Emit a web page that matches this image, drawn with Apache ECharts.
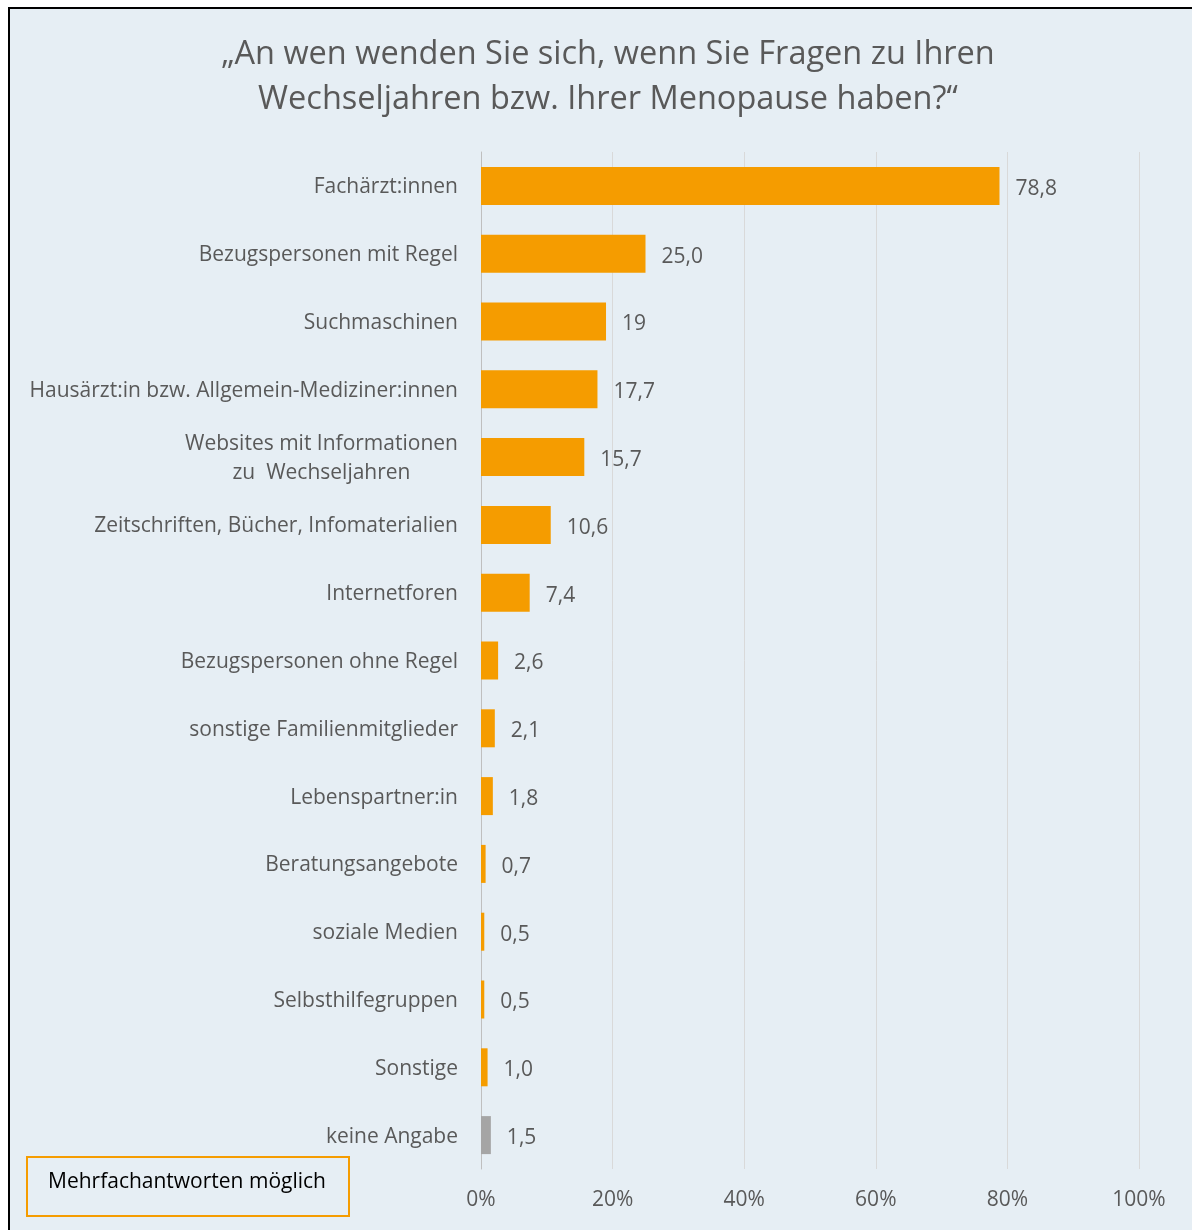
<!DOCTYPE html>
<html><head><meta charset="utf-8">
<script src="https://cdn.jsdelivr.net/npm/echarts@6/dist/echarts.min.js"></script>
<style>html,body{margin:0;padding:0;background:#fff}#c{width:1192px;height:1230px}</style>
</head><body><div id="c"></div>
<script>
const categories = ["Fachärzt:innen","Bezugspersonen mit Regel","Suchmaschinen","Hausärzt:in bzw. Allgemein-Mediziner:innen","Websites mit Informationen\nzu  Wechseljahren","Zeitschriften, Bücher, Infomaterialien","Internetforen","Bezugspersonen ohne Regel","sonstige Familienmitglieder","Lebenspartner:in","Beratungsangebote","soziale Medien","Selbsthilfegruppen","Sonstige","keine Angabe"];
const values = [78.8,25.0,19,17.7,15.7,10.6,7.4,2.6,2.1,1.8,0.7,0.5,0.5,1.0,1.5];
const valueLabels = ["78,8","25,0","19","17,7","15,7","10,6","7,4","2,6","2,1","1,8","0,7","0,5","0,5","1,0","1,5"];
const barColors = ["#F59C00","#F59C00","#F59C00","#F59C00","#F59C00","#F59C00","#F59C00","#F59C00","#F59C00","#F59C00","#F59C00","#F59C00","#F59C00","#F59C00","#A5A5A5"];
const xTicks = [0,20,40,60,80,100];
const titleText = "„An wen wenden Sie sich, wenn Sie Fragen zu Ihren\nWechseljahren bzw. Ihrer Menopause haben?“";
const noteText = "Mehrfachantworten möglich";

const FONT = "Open Sans";
const LFS = 21;
const cv = document.createElement('canvas').getContext('2d');
cv.font = LFS + 'px "' + FONT + '"';
function lineW(s){ return Math.ceil(cv.measureText(s).width); }

const chart = echarts.init(document.getElementById('c'), null, {renderer:'canvas'});
chart.setOption({
  backgroundColor:'#ffffff',
  animation:false,
  graphic:[
    {type:'rect', z:-10, shape:{x:9,y:8,width:1200,height:1240}, style:{fill:'#E6EEF4', stroke:'#000', lineWidth:2}},
    {type:'rect', z:10, shape:{x:27,y:1157,width:322,height:59}, style:{fill:'#E6EEF4', stroke:'#F59C00', lineWidth:2}},
    {type:'text', z:11, left:48, top:1172, style:{text:noteText, fill:'#000', font:'21px "'+FONT+'"'}}
  ],
  title:{text:titleText, left:603, top:27, textAlign:'center',
    textStyle:{fontFamily:FONT, fontSize:32.5, fontWeight:'normal', color:'#595959', lineHeight:45}},
  grid:{left:481, right:53, top:152, bottom:61, containLabel:false},
  xAxis:{type:'value', min:0, max:100, interval:20,
    axisLine:{show:false}, axisTick:{show:false},
    splitLine:{lineStyle:{color:'#D9D9D9', width:1}},
    axisLabel:{formatter:v=>xTicks.includes(v)?v+'%':'', fontFamily:FONT, fontSize:21, color:'#595959', margin:21}},
  yAxis:{type:'category', data:categories, inverse:true,
    axisLine:{show:true, lineStyle:{color:'#BFBFBF', width:1}}, axisTick:{show:false},
    axisLabel:{fontFamily:FONT, fontSize:LFS, color:'#595959', margin:23, padding:[3,0,0,0],
      formatter:function(v){ if(v.indexOf('\n')>=0){ return v.split('\n').map(s=>'{c|'+s+'}').join('\n'); } return v; },
      rich:{c:{width:lineW('Websites mit Informationen'), align:'center', fontFamily:FONT, fontSize:LFS, color:'#595959', lineHeight:29}}}},
  series:[{type:'bar', barWidth:38,
    data:values.map((v,i)=>({value:v, itemStyle:{color:barColors[i]}})),
    label:{show:true, position:'right', distance:16, offset:[0,3], formatter:p=>valueLabels[p.dataIndex],
      fontFamily:FONT, fontSize:21, color:'#595959'}}]
});
</script></body></html>
